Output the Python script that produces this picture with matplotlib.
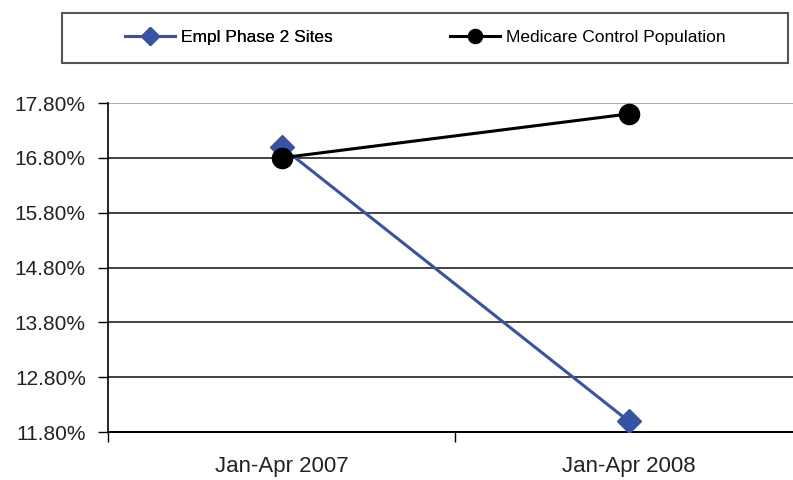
import matplotlib.pyplot as plt
from matplotlib.patches import Rectangle
from matplotlib.ticker import FuncFormatter

plt.rcParams['font.family'] = ['Liberation Sans', 'DejaVu Sans']

periods = ['Jan-Apr 2007', 'Jan-Apr 2008']
empl_phase2 = [17.0, 12.0]
medicare_ctrl = [16.8, 17.6]
yticks = [11.8, 12.8, 13.8, 14.8, 15.8, 16.8, 17.8]

fig = plt.figure(figsize=(7.93, 4.8), dpi=100)
ax = fig.add_axes([108 / 793, 48 / 480, 694 / 793, 329 / 480])

x = list(range(len(periods)))
l1, = ax.plot(x, empl_phase2, color='#3953a4', lw=2.2, marker='D', ms=12.5,
              label='Empl Phase 2 Sites', zorder=3)
l2, = ax.plot(x, medicare_ctrl, color='black', lw=2.2, marker='o', ms=14.5,
              label='Medicare Control Population', zorder=4)

ax.set_xlim(-0.5, 1.5)
ax.set_ylim(11.8, 17.8)
ax.set_yticks(yticks)
ax.yaxis.set_major_formatter(FuncFormatter(lambda v, p: f'{v:.2f}%'))
ax.set_xticks(x)
ax.set_xticklabels(periods)
ax.set_xticks([-0.5, 0.5], minor=True)
ax.tick_params(axis='x', which='major', length=0, pad=17, labelsize=16,
               labelcolor='#222222')
ax.tick_params(axis='x', which='minor', length=7, direction='out', width=1)
ax.tick_params(axis='y', length=7, direction='out', width=1, pad=9,
               labelsize=15, labelcolor='#222222')

for yv in yticks[1:]:
    ax.axhline(yv, color='#222222' if yv < 17.8 else '#999999', lw=1.2, zorder=1)

for s in ['top', 'right']:
    ax.spines[s].set_visible(False)
ax.spines['left'].set_linewidth(1.2)
ax.spines['bottom'].set_linewidth(1.4)

# legend frame across the top
fig.patches.append(Rectangle((62 / 793, 1 - 63 / 480), 726 / 793, 50 / 480,
                             transform=fig.transFigure, fill=False,
                             edgecolor='#555555', lw=1.5))
leg_kw = dict(loc='center left', frameon=False, fontsize=12.5,
              handlelength=2.9, handletextpad=0.3, borderpad=0,
              borderaxespad=0, markerscale=0.7)
leg1 = fig.legend(handles=[l1], bbox_to_anchor=(125 / 793, 1 - 37 / 480), **leg_kw)
fig.add_artist(leg1)
fig.legend(handles=[l2], bbox_to_anchor=(450 / 793, 1 - 37 / 480), **leg_kw)

fig.savefig('out.png', dpi=100)
